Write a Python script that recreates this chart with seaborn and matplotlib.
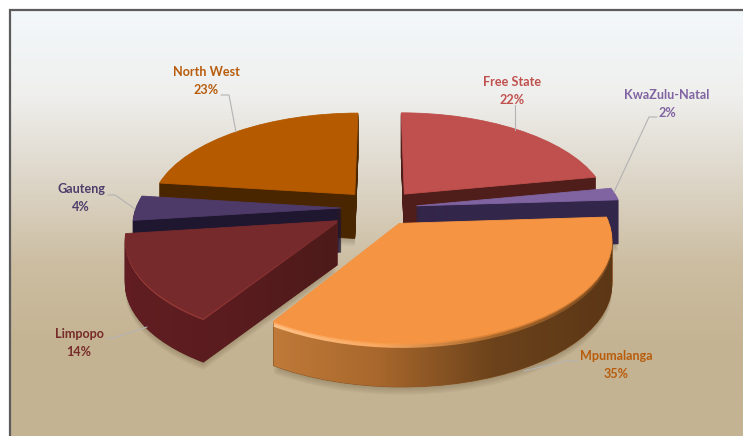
import matplotlib

matplotlib.use("Agg")
import matplotlib.pyplot as plt
import numpy as np
import seaborn as sns
from matplotlib.path import Path
from matplotlib.transforms import Transform

provinces = ["Free State", "KwaZulu-Natal", "Mpumalanga", "Limpopo", "Gauteng", "North West"]
shares = [22, 2, 35, 14, 4, 23]
explode = [0.19, 0.18, 0.18, 0.24, 0.19, 0.19]

# colours per slice
top_colors = ["#c0504d", "#8064a2", "#f59442", "#772a2b", "#4e3a68", "#b65a00"]
side_colors = ["#4f1e1b", "#32264a", "#8a5220", "#5a1c1e", "#1f1630", "#4a2600"]
text_colors = ["#c0504d", "#8064a2", "#b85c0c", "#772c2a", "#4f3d6b", "#b85c0c"]
# back to front
draw_rank = [0, 2, 5, 4, 3, 1]

label_pos = [(512, 91), (667, 104), (616, 365), (79, 343), (81, 198), (206, 81)]
leaders = [
    [(515, 105), (515, 130)],
    [(657, 117), (649, 117), (614, 192)],
    [(578, 361), (566, 361), (524, 371)],
    [(107, 338), (113, 338), (147, 327)],
    [(108, 195), (115, 195), (135, 209)],
    [(221, 95), (229, 95), (236, 132)],
]

DEPTH = 44

sns.set_theme(style="white")
plt.rcParams["font.family"] = ["Lato", "DejaVu Sans"]


class Perspective(Transform):
    """Tilts the flat unit pie back, front of the pie comes out bigger"""

    input_dims = 2
    output_dims = 2

    def __init__(self, drop=0.0):
        super().__init__()
        self.drop = drop

    def transform_non_affine(self, values):
        xy = np.asarray(values, dtype=float)
        w = 1 + 0.147 * xy[:, 1]
        px = 380 + 205 * xy[:, 0] / w
        py = 208 - 97 * xy[:, 1] / w + self.drop
        return np.column_stack([px, py])


def draw_pie(ax, colors, drop, z_offset, alpha=None):
    wedges, _ = ax.pie(
        shares,
        colors=colors,
        startangle=90,
        counterclock=False,
        explode=explode,
        wedgeprops={"linewidth": 0.6 if alpha is None else 0},
    )
    persp = Perspective(drop)
    for i, w in enumerate(wedges):
        w.set_transform(persp + ax.transData)
        w.set_zorder(10 + draw_rank[i] * 100 + z_offset)
        w.set_edgecolor(colors[i])
        if alpha is not None:
            w.set_alpha(alpha)
    return wedges, persp


def swept_path(wedge, drops):
    parts = [Perspective(d).transform_path(wedge.get_path()) for d in drops]
    return Path.make_compound_path(*parts)


def gradient_over(ax, wedge, drops, colors, x0, x1, z):
    path = swept_path(wedge, drops)
    cmap = sns.blend_palette(colors, as_cmap=True)
    img = ax.imshow(
        np.linspace(0, 1, 256).reshape(1, -1),
        cmap=cmap,
        extent=(x0, x1, 436, 0),
        aspect="auto",
        zorder=z,
    )
    img.set_clip_path(path, ax.transData)


fig = plt.figure(figsize=(7.43, 4.36), dpi=100)
ax = fig.add_axes([0, 0, 1, 1])

# soft shadow under the pie
for drop in range(DEPTH + 1, DEPTH + 9):
    draw_pie(ax, ["#4a3a20"] * 6, drop, -5, alpha=0.035)

# side walls, bottom layer first
for drop in range(DEPTH, 0, -1):
    draw_pie(ax, side_colors, drop, 0)

wedges, persp = draw_pie(ax, top_colors, 0, 60)

gradient_over(ax, wedges[2], range(1, DEPTH + 1), ["#c27c3a", "#a8672c", "#6b421b", "#5c3716"], 262, 612, 560)
gradient_over(ax, wedges[3], range(1, DEPTH + 1), ["#621e22", "#5a1c1f", "#4d1a19"], 118, 340, 460)
# light bevel along the front rim
gradient_over(ax, wedges[2], range(1, 6), ["#ffc48a", "#f9a860", "#a8682c", "#7a4a1e"], 262, 612, 565)
gradient_over(ax, wedges[2], range(1, 3), ["#ffb070", "#f9a050", "#d98036", "#b06a2a"], 262, 612, 566)
gradient_over(ax, wedges[3], range(1, 3), ["#a0403c", "#8e3533", "#772a2b"], 118, 340, 465)

# panel background
bg = sns.blend_palette(["#f3f8fb", "#efefed", "#ddd6c8", "#ccbda1", "#c4b392", "#c4b392"], as_cmap=True)
ax.imshow(np.linspace(0, 1, 256).reshape(-1, 1), cmap=bg, extent=(10, 743, 436, 10), aspect="auto", zorder=0)
ax.plot([10, 10, 743], [436, 10, 10], color="#5c5c5c", lw=1.6, zorder=1, solid_joinstyle="miter")

for pts in leaders:
    xs, ys = zip(*pts)
    ax.plot(xs, ys, color="#b3b3b3", lw=0.8, zorder=900)

for name, share, pos, col in zip(provinces, shares, label_pos, text_colors):
    ax.text(pos[0], pos[1], f"{name}\n{share}%", color=col, fontsize=9.1, fontweight="bold",
            ha="center", va="center", linespacing=1.55, zorder=901)

ax.set_aspect("auto")
ax.set_xlim(0, 743)
ax.set_ylim(436, 0)
ax.axis("off")

fig.savefig("out.png", dpi=100)
plt.close(fig)
